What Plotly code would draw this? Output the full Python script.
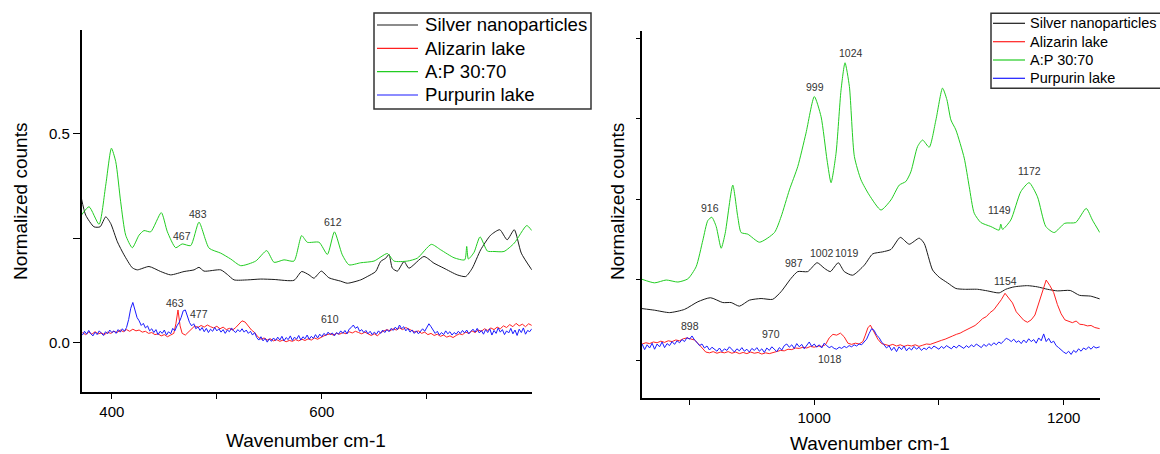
import plotly.graph_objects as go

# ---------------- Low wavenumber region (left panel) ----------------
silver_lo_x = [371, 375.1, 383, 388.8, 394.2, 398.9, 405.3, 411.6, 419.5, 424.3, 435.4, 446.5, 456,
               468.8, 478.3, 483, 487.8, 503.7, 510, 516.4, 529.1, 541.8, 554.5, 573.5, 580.8,
               587.8, 592.5, 599.5, 606.8, 617.9, 624.3, 637, 643.3, 651.3, 656, 660.9, 664,
               667.2, 672, 678.3, 683, 697.3, 706.8, 716.3, 729, 737, 743.3, 751.3, 760.8,
               769.5, 776.5, 783.3, 790, 800]
silver_lo_y = [0.345, 0.305, 0.277, 0.277, 0.301, 0.285, 0.241, 0.210, 0.179, 0.174, 0.182, 0.170, 0.162,
               0.170, 0.174, 0.180, 0.171, 0.174, 0.163, 0.150, 0.150, 0.152, 0.151, 0.149, 0.170,
               0.162, 0.154, 0.171, 0.155, 0.147, 0.142, 0.150, 0.158, 0.170, 0.194, 0.202, 0.211,
               0.178, 0.171, 0.194, 0.178, 0.206, 0.190, 0.178, 0.162, 0.158, 0.178, 0.222, 0.257,
               0.270, 0.246, 0.270, 0.214, 0.174]

mix_lo_x = [371, 378.3, 387.8, 394.2, 399.6, 403.7, 408.4, 413.2, 419.5, 425.9, 430.6, 437, 447.1,
            452.9, 460.8, 467, 475.1, 483, 492.6, 503.7, 513.2, 522.7, 537, 547.5, 554.5, 564,
            573.5, 580.8, 586.2, 597.4, 605.3, 612, 619.5, 625.9, 637, 649.7, 662.4, 668.8,
            681.5, 691, 704.3, 713.2, 725.9, 736.1, 738, 739.6, 745, 750.7, 757.7, 764, 773.5,
            783.3, 795.2, 800]
mix_lo_y = [0.305, 0.325, 0.283, 0.377, 0.465, 0.433, 0.337, 0.257, 0.227, 0.257, 0.268, 0.265, 0.311,
            0.265, 0.227, 0.236, 0.232, 0.288, 0.226, 0.214, 0.200, 0.184, 0.195, 0.220, 0.192, 0.198,
            0.195, 0.256, 0.240, 0.240, 0.211, 0.265, 0.210, 0.186, 0.191, 0.195, 0.213, 0.195,
            0.195, 0.202, 0.235, 0.222, 0.203, 0.198, 0.230, 0.200, 0.216, 0.253, 0.219, 0.218, 0.218,
            0.238, 0.280, 0.268]

alizarin_lo_x = [372, 375, 378, 381, 384, 387, 390, 393, 396, 399, 402, 405, 408, 411, 414, 417, 420,
                 423, 426, 429, 432, 435, 438, 441, 444, 447, 450, 453, 456, 459, 461, 463, 465, 467,
                 470, 473, 476, 479, 482, 485, 488, 491, 494, 497, 500, 503, 506, 509, 512, 515, 518,
                 521, 524, 527, 530, 533, 536, 539, 542, 545, 548, 551, 554, 557, 560, 563, 566, 569,
                 572, 575, 578, 581, 584, 587, 590, 593, 596, 599, 602, 605, 608, 611, 614, 617, 620,
                 623, 626, 629, 632, 635, 638, 641, 644, 647, 650, 653, 656, 659, 662, 665, 668, 671,
                 674, 677, 680, 683, 686, 689, 692, 695, 698, 701, 704, 707, 710, 713, 716, 719, 722,
                 725, 728, 731, 734, 737, 740, 743, 746, 749, 752, 755, 758, 761, 764, 767, 770, 773,
                 776, 779, 782, 785, 788, 791, 794, 797, 800]
alizarin_lo_y = [0.024, 0.019, 0.025, 0.020, 0.026, 0.021, 0.023, 0.019, 0.025, 0.022, 0.027, 0.024,
                 0.030, 0.026, 0.031, 0.027, 0.032, 0.028, 0.030, 0.025, 0.027, 0.022, 0.024, 0.019,
                 0.021, 0.016, 0.019, 0.014, 0.018, 0.022, 0.045, 0.078, 0.040, 0.022, 0.018, 0.026,
                 0.034, 0.040, 0.036, 0.041, 0.037, 0.042, 0.038, 0.035, 0.039, 0.033, 0.037, 0.031,
                 0.034, 0.030, 0.036, 0.044, 0.052, 0.049, 0.038, 0.030, 0.024, 0.014, 0.008, 0.011,
                 0.006, 0.009, 0.004, 0.007, 0.003, 0.006, 0.002, 0.005, 0.003, 0.007, 0.004, 0.008,
                 0.005, 0.009, 0.006, 0.011, 0.008, 0.013, 0.016, 0.019, 0.021, 0.018, 0.022, 0.020,
                 0.024, 0.021, 0.026, 0.023, 0.027, 0.024, 0.021, 0.025, 0.020, 0.017, 0.021, 0.016,
                 0.024, 0.027, 0.031, 0.028, 0.033, 0.030, 0.035, 0.031, 0.036, 0.032, 0.029, 0.025,
                 0.028, 0.022, 0.025, 0.019, 0.022, 0.017, 0.020, 0.015, 0.018, 0.013, 0.016, 0.012,
                 0.017, 0.021, 0.019, 0.025, 0.022, 0.028, 0.024, 0.030, 0.027, 0.033, 0.029, 0.035,
                 0.031, 0.037, 0.033, 0.040, 0.036, 0.043, 0.038, 0.046, 0.040, 0.044, 0.038, 0.045,
                 0.041]

purpurin_lo_x = list(range(372, 801, 2))
purpurin_lo_y = [0.018, 0.027, 0.020, 0.029, 0.021, 0.016, 0.025, 0.019, 0.028, 0.022, 0.017, 0.026,
                 0.021, 0.030, 0.024, 0.028, 0.022, 0.031, 0.025, 0.033, 0.027, 0.036, 0.055, 0.082,
                 0.096, 0.078, 0.060, 0.052, 0.041, 0.046, 0.035, 0.040, 0.028, 0.033, 0.024, 0.031,
                 0.019, 0.027, 0.022, 0.030, 0.018, 0.026, 0.021, 0.034, 0.028, 0.040, 0.048, 0.060,
                 0.076, 0.078, 0.062, 0.048, 0.040, 0.045, 0.033, 0.038, 0.029, 0.036, 0.026, 0.034,
                 0.024, 0.032, 0.027, 0.036, 0.028, 0.033, 0.025, 0.031, 0.022, 0.030, 0.026, 0.035,
                 0.028, 0.024, 0.031, 0.026, 0.033, 0.025, 0.030, 0.022, 0.027, 0.018, 0.024, 0.012,
                 0.006, 0.014, 0.004, 0.010, 0.001, 0.009, 0.003, 0.011, 0.005, 0.013, 0.006, 0.015,
                 0.004, 0.012, 0.007, 0.016, 0.005, 0.013, 0.008, 0.017, 0.006, 0.014, 0.009, 0.018,
                 0.008, 0.015, 0.010, 0.019, 0.011, 0.020, 0.014, 0.022, 0.017, 0.025, 0.019, 0.023,
                 0.016, 0.024, 0.020, 0.028, 0.022, 0.029, 0.021, 0.032, 0.036, 0.042, 0.034, 0.038,
                 0.027, 0.031, 0.024, 0.029, 0.021, 0.027, 0.019, 0.025, 0.020, 0.028, 0.022, 0.030,
                 0.024, 0.031, 0.026, 0.034, 0.029, 0.037, 0.031, 0.042, 0.033, 0.038, 0.028, 0.034,
                 0.025, 0.030, 0.022, 0.028, 0.021, 0.026, 0.033, 0.027, 0.036, 0.045, 0.038, 0.030,
                 0.022, 0.027, 0.018, 0.024, 0.019, 0.028, 0.021, 0.026, 0.018, 0.024, 0.020, 0.027,
                 0.022, 0.029, 0.023, 0.030, 0.021, 0.027, 0.032, 0.025, 0.034, 0.023, 0.029, 0.020,
                 0.031, 0.024, 0.033, 0.018, 0.029, 0.022, 0.035, 0.025, 0.031, 0.019, 0.028, 0.023,
                 0.034, 0.021, 0.030, 0.017, 0.032, 0.024, 0.035, 0.020, 0.029, 0.026, 0.033]

# ---------------- High wavenumber region (right panel) ----------------
silver_hi_x = [861.8, 872, 884, 896, 906.7, 916.8, 926.7, 933.4, 940, 948.1, 957.4, 966.7, 973.4,
               981.4, 986.8, 994.8, 1002.3, 1008.2, 1012.9, 1019.3, 1024.1, 1030.8, 1040.2, 1046.9,
               1054.9, 1061.5, 1069, 1076.2, 1084.2, 1088.2, 1094.9, 1100.2, 1106.9, 1113.6, 1120.3,
               1130.9, 1138.9, 1148.3, 1153.6, 1160.3, 1171, 1179, 1187, 1195, 1205.3, 1212.7,
               1221.6, 1229]
silver_hi_y = [0.128, 0.124, 0.118, 0.126, 0.145, 0.155, 0.143, 0.143, 0.134, 0.149, 0.153, 0.151, 0.170,
               0.203, 0.220, 0.220, 0.242, 0.228, 0.220, 0.242, 0.220, 0.211, 0.236, 0.264,
               0.269, 0.275, 0.305, 0.288, 0.303, 0.290, 0.224, 0.206, 0.192, 0.178, 0.176,
               0.176, 0.172, 0.167, 0.176, 0.182, 0.185, 0.182, 0.176, 0.172, 0.173, 0.161,
               0.159, 0.152]

mix_hi_x = [861.8, 872, 881.3, 890.7, 898.7, 905.3, 910.7, 914.7, 917.9, 921.4, 925.4, 928.6, 934.7,
            938.7, 941.4, 946.7, 956.1, 968.1, 973.4, 980.1, 986.8, 993.4, 1000.1, 1005.5, 1010.3,
            1013.5, 1017.5, 1021.5, 1024.7, 1028.2, 1032.2, 1037.5, 1044.2, 1053.5, 1061.5, 1068.2,
            1073.5, 1077.5, 1082.9, 1086.9, 1092.2, 1097.6, 1102.9, 1106.4, 1109.6, 1113.6, 1120.3,
            1124.3, 1128.3, 1133.6, 1141.6, 1148.3, 1149.6, 1151, 1157.6, 1165.7, 1172.3, 1179,
            1185.7, 1192.4, 1200.9, 1209.7, 1218.1, 1223.1, 1229]
mix_hi_y = [0.201, 0.192, 0.199, 0.194, 0.202, 0.232, 0.298, 0.347, 0.355, 0.332, 0.278, 0.315, 0.435,
            0.356, 0.317, 0.313, 0.293, 0.317, 0.356, 0.423, 0.481, 0.564, 0.655, 0.605, 0.497,
            0.441, 0.514, 0.671, 0.739, 0.680, 0.506, 0.448, 0.410, 0.373, 0.398, 0.435,
            0.444, 0.468, 0.531, 0.547, 0.529, 0.597, 0.676, 0.647, 0.597, 0.572, 0.502,
            0.431, 0.365, 0.342, 0.332, 0.323, 0.338, 0.325, 0.348, 0.419, 0.441, 0.406,
            0.332, 0.317, 0.340, 0.342, 0.377, 0.348, 0.317]

alizarin_hi_x = [862, 865, 868, 871, 874, 877, 880, 883, 886, 889, 892, 895, 898, 901, 904, 907, 910,
                 913, 916, 919, 922, 925, 928, 931, 934, 937, 940, 943, 946, 949, 952, 955, 958, 961,
                 964, 967, 970, 973, 976, 979, 982, 985, 988, 991, 994, 997, 1000, 1003, 1006, 1009,
                 1012, 1015, 1018, 1021, 1024, 1027, 1030, 1033, 1036, 1039, 1041, 1043, 1045, 1047,
                 1049, 1051, 1054, 1057, 1060, 1063, 1066, 1069, 1072, 1075, 1078, 1081, 1084, 1087,
                 1090, 1093, 1096, 1099, 1102, 1105, 1108, 1111, 1114, 1117, 1120, 1123, 1126, 1129,
                 1132, 1135, 1138, 1141, 1144, 1147, 1150, 1153, 1156, 1159, 1162, 1165, 1168, 1171,
                 1174, 1177, 1180, 1183, 1186, 1189, 1192, 1195, 1198, 1201, 1204, 1207, 1210, 1213,
                 1216, 1219, 1222, 1225, 1229]
alizarin_hi_y = [0.040, 0.043, 0.041, 0.045, 0.043, 0.047, 0.044, 0.048, 0.046, 0.050, 0.048, 0.053,
                 0.055, 0.052, 0.050, 0.041, 0.030, 0.020, 0.018, 0.021, 0.017, 0.020, 0.018, 0.021,
                 0.017, 0.020, 0.016, 0.019, 0.016, 0.020, 0.017, 0.019, 0.015, 0.018, 0.016, 0.019,
                 0.021, 0.024, 0.023, 0.027, 0.026, 0.030, 0.029, 0.032, 0.030, 0.034, 0.032, 0.035,
                 0.034, 0.038, 0.055, 0.064, 0.062, 0.067, 0.058, 0.042, 0.039, 0.042, 0.040, 0.046,
                 0.062, 0.080, 0.087, 0.074, 0.063, 0.052, 0.041, 0.039, 0.036, 0.039, 0.035, 0.038,
                 0.034, 0.037, 0.035, 0.038, 0.034, 0.037, 0.040, 0.039, 0.043, 0.045, 0.049, 0.052,
                 0.057, 0.060, 0.064, 0.067, 0.072, 0.076, 0.082, 0.086, 0.094, 0.103, 0.108, 0.118,
                 0.125, 0.137, 0.150, 0.166, 0.155, 0.142, 0.120, 0.108, 0.099, 0.094, 0.100, 0.112,
                 0.140, 0.170, 0.199, 0.185, 0.168, 0.138, 0.115, 0.100, 0.097, 0.093, 0.097, 0.089,
                 0.088, 0.085, 0.086, 0.081, 0.078]

purpurin_hi_x = list(range(862, 1227, 2)) + [1229]
purpurin_hi_y = [0.040, 0.026, 0.038, 0.030, 0.042, 0.027, 0.040, 0.033, 0.045, 0.031, 0.041, 0.036,
                 0.046, 0.039, 0.048, 0.043, 0.051, 0.046, 0.056, 0.052, 0.060, 0.050, 0.044, 0.036,
                 0.040, 0.030, 0.035, 0.025, 0.032, 0.027, 0.022, 0.030, 0.021, 0.028, 0.024, 0.033,
                 0.025, 0.020, 0.028, 0.023, 0.031, 0.022, 0.027, 0.020, 0.029, 0.024, 0.031, 0.022,
                 0.028, 0.019, 0.030, 0.024, 0.033, 0.026, 0.021, 0.031, 0.025, 0.036, 0.040, 0.032,
                 0.038, 0.029, 0.041, 0.033, 0.039, 0.028, 0.036, 0.045, 0.034, 0.040, 0.032, 0.038,
                 0.030, 0.042, 0.036, 0.031, 0.034, 0.029, 0.027, 0.032, 0.029, 0.034, 0.031, 0.036,
                 0.033, 0.038, 0.035, 0.040, 0.038, 0.045, 0.052, 0.066, 0.078, 0.074, 0.062, 0.056,
                 0.045, 0.038, 0.030, 0.036, 0.024, 0.032, 0.021, 0.033, 0.026, 0.035, 0.023, 0.031,
                 0.025, 0.034, 0.027, 0.032, 0.024, 0.030, 0.026, 0.033, 0.028, 0.035, 0.030, 0.027,
                 0.034, 0.029, 0.036, 0.031, 0.028, 0.035, 0.030, 0.037, 0.032, 0.029, 0.036, 0.031,
                 0.038, 0.033, 0.040, 0.035, 0.031, 0.039, 0.034, 0.041, 0.036, 0.043, 0.038, 0.045,
                 0.041, 0.048, 0.054, 0.051, 0.046, 0.052, 0.044, 0.048, 0.041, 0.050, 0.043, 0.053,
                 0.046, 0.051, 0.042, 0.055, 0.048, 0.065, 0.046, 0.054, 0.043, 0.047, 0.036, 0.031,
                 0.025, 0.020, 0.016, 0.022, 0.014, 0.024, 0.019, 0.028, 0.022, 0.030, 0.026, 0.033,
                 0.027, 0.034, 0.030, 0.033]

# Peak labels: (wavenumber position, height, text)
peaks_lo = [(466.6, 0.256, "467"), (482, 0.308, "483"), (611, 0.288, "612"),
            (460, 0.094, "463"), (483.3, 0.068, "477"), (607.8, 0.056, "610")]
peaks_hi = [(916.3, 0.379, "916"), (1000.4, 0.680, "999"), (1029.5, 0.763, "1024"),
            (1148.3, 0.372, "1149"), (1172.9, 0.471, "1172"), (984.1, 0.241, "987"),
            (1006, 0.265, "1002"), (1026.3, 0.265, "1019"), (1153.6, 0.197, "1154"),
            (900.5, 0.085, "898"), (965.7, 0.066, "970"), (1012.9, 0.002, "1018")]

series_names = ["Silver nanoparticles", "Alizarin lake", "A:P 30:70", "Purpurin lake"]
series_colors = ["#1a1a1a", "#ff2020", "#22cc22", "#1a1aff"]
# smooth baseline-corrected spectra vs raw noisy ones
series_smooth = [True, False, True, False]

W, H = 1160, 454
FONT = "Liberation Sans, Arial, sans-serif"

fig = go.Figure()

lo_data = [(silver_lo_x, silver_lo_y), (alizarin_lo_x, alizarin_lo_y),
           (mix_lo_x, mix_lo_y), (purpurin_lo_x, purpurin_lo_y)]
hi_data = [(silver_hi_x, silver_hi_y), (alizarin_hi_x, alizarin_hi_y),
           (mix_hi_x, mix_hi_y), (purpurin_hi_x, purpurin_hi_y)]


def line_style(col, smooth):
    if smooth:
        return dict(color=col, width=1, shape="spline", smoothing=0.6)
    return dict(color=col, width=1)


for (xs, ys), name, col, sm in zip(lo_data, series_names, series_colors, series_smooth):
    fig.add_trace(go.Scatter(x=xs, y=ys, mode="lines", name=name, showlegend=False,
                             line=line_style(col, sm), xaxis="x", yaxis="y"))
for (xs, ys), name, col, sm in zip(hi_data, series_names, series_colors, series_smooth):
    fig.add_trace(go.Scatter(x=xs, y=ys, mode="lines", name=name, showlegend=False,
                             line=line_style(col, sm), xaxis="x2", yaxis="y2"))


def px_x(p):
    return p / W


def px_y(p):
    return 1 - p / H


axis_common = dict(showline=True, linecolor="black", linewidth=1.5, showgrid=False,
                   zeroline=False, ticks="outside", tickcolor="black", tickwidth=1.2,
                   tickfont=dict(family=FONT, size=15, color="black"), mirror=False)

fig.update_layout(
    width=W, height=H,
    margin=dict(l=0, r=0, t=0, b=0, autoexpand=False),
    paper_bgcolor="white", plot_bgcolor="white",
    showlegend=False,
    xaxis=dict(domain=[px_x(81.5), px_x(531.8)], range=[371.1, 800], anchor="y",
               tickvals=[400, 500, 600, 700], ticktext=["400", "", "600", ""], ticklen=5,
               **axis_common),
    yaxis=dict(domain=[px_y(392.3), px_y(30)], range=[-0.119, 0.748], anchor="x",
               tickvals=[0, 0.25, 0.5], ticktext=["0.0", "", "0.5"], ticklen=7,
               **axis_common),
    xaxis2=dict(domain=[px_x(641.5), px_x(1099.8)], range=[861.5, 1229], anchor="y2",
                tickvals=[900, 1000, 1100, 1200], ticktext=["", "1000", "", "1200"], ticklen=5,
                **axis_common),
    yaxis2=dict(domain=[px_y(398.3), px_y(31)], range=[-0.095, 0.818], anchor="x2",
                tickvals=[0, 0.2, 0.4, 0.6, 0.8], showticklabels=False, ticklen=4,
                **axis_common),
)

annotations = []
shapes = []
for x, y, t in peaks_lo:
    annotations.append(dict(x=x, y=y, xref="x", yref="y", text=t, showarrow=False,
                            font=dict(family=FONT, size=10.5, color="#333333")))
for x, y, t in peaks_hi:
    annotations.append(dict(x=x, y=y, xref="x2", yref="y2", text=t, showarrow=False,
                            font=dict(family=FONT, size=10.5, color="#333333")))


# Legend boxes for each panel (pixel layout: box, sample line, label column, rows)
def add_legend(box, line_x, text_x, rows, size):
    x0, y0, x1, y1 = box
    shapes.append(dict(type="rect", xref="paper", yref="paper",
                       x0=px_x(x0), x1=px_x(x1), y0=px_y(y1), y1=px_y(y0),
                       line=dict(color="#333333", width=1.5), fillcolor="white", layer="above"))
    for name, col, ry in zip(series_names, series_colors, rows):
        shapes.append(dict(type="line", xref="paper", yref="paper",
                           x0=px_x(line_x[0]), x1=px_x(line_x[1]), y0=px_y(ry), y1=px_y(ry),
                           line=dict(color=col, width=1.2), layer="above"))
        annotations.append(dict(x=px_x(text_x), y=px_y(ry), xref="paper", yref="paper",
                                text=name, showarrow=False, xanchor="left", yanchor="middle",
                                font=dict(family=FONT, size=size, color="black")))


add_legend((374, 13, 591, 109), (377, 418), 423, [25, 48.3, 71.7, 95], 18.6)
add_legend((991, 13.3, 1170, 88.3), (993, 1025), 1028, [23.3, 41.7, 60, 78.3], 14.5)

# Axis titles
title_font = dict(family=FONT, size=19, color="black")
annotations += [
    dict(x=px_x(305.5), y=px_y(440), xref="paper", yref="paper", text="Wavenumber cm-1",
         showarrow=False, font=title_font, xanchor="center", yanchor="middle"),
    dict(x=px_x(870.4), y=px_y(443), xref="paper", yref="paper", text="Wavenumber cm-1",
         showarrow=False, font=title_font, xanchor="center", yanchor="middle"),
    dict(x=px_x(20.2), y=px_y(201.7), xref="paper", yref="paper", text="Normalized counts",
         showarrow=False, font=title_font, textangle=-90, xanchor="center", yanchor="middle"),
    dict(x=px_x(617.4), y=px_y(201.7), xref="paper", yref="paper", text="Normalized counts",
         showarrow=False, font=title_font, textangle=-90, xanchor="center", yanchor="middle"),
]
fig.update_layout(annotations=annotations, shapes=shapes)

fig.write_html("out.html")
